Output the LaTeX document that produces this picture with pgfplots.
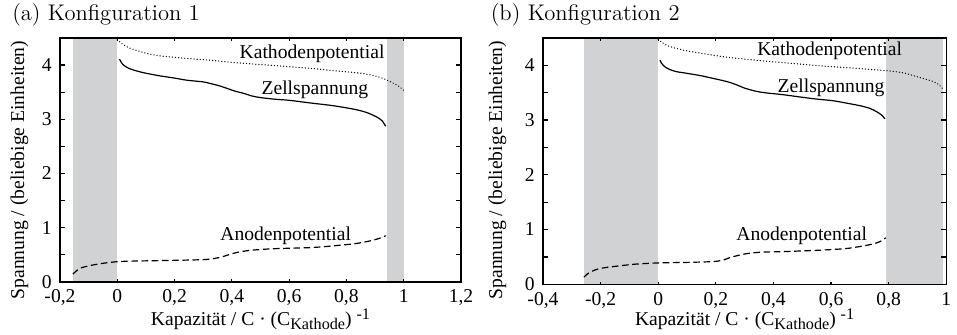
\documentclass[border=0pt]{standalone}
\usepackage{fontspec}
\usepackage{pgfplots}
\pgfplotsset{compat=1.18}
\setmainfont{Liberation Serif}
\newfontfamily\lmfont{Latin Modern Roman}
\definecolor{bandgray}{RGB}{209,210,212}

% Potential curves of both cell configurations
\pgfplotstableread{
x y
0.000 4.47
0.020 4.38
0.045 4.31
0.100 4.22
0.150 4.17
0.250 4.12
0.325 4.09
0.400 4.05
0.500 4.01
0.600 3.97
0.675 3.94
0.750 3.90
0.850 3.85
0.900 3.80
0.930 3.75
0.966 3.66
0.985 3.60
1.000 3.53
}\kathA
\pgfplotstableread{
x y
0.008 4.11
0.015 4.04
0.022 4.00
0.040 3.94
0.069 3.89
0.100 3.85
0.150 3.80
0.200 3.76
0.244 3.72
0.300 3.69
0.325 3.66
0.355 3.62
0.383 3.57
0.410 3.52
0.440 3.48
0.470 3.43
0.500 3.40
0.550 3.37
0.600 3.35
0.675 3.30
0.740 3.26
0.790 3.22
0.840 3.17
0.873 3.12
0.895 3.07
0.913 3.02
0.925 2.97
0.937 2.87
}\zelleA
\pgfplotstableread{
x y
-0.155 0.14
-0.145 0.19
-0.129 0.25
-0.110 0.28
-0.094 0.30
-0.050 0.34
0.000 0.37
0.050 0.38
0.150 0.39
0.250 0.40
0.310 0.41
0.340 0.43
0.360 0.45
0.390 0.50
0.418 0.54
0.450 0.57
0.488 0.59
0.550 0.61
0.675 0.63
0.750 0.66
0.826 0.70
0.870 0.74
0.896 0.77
0.920 0.81
0.937 0.85
}\anodeA
\pgfplotstableread{
x y
0.000 4.47
0.020 4.39
0.040 4.34
0.090 4.27
0.145 4.22
0.230 4.15
0.318 4.10
0.400 4.06
0.490 4.02
0.580 3.98
0.665 3.95
0.740 3.92
0.790 3.90
0.850 3.86
0.897 3.79
0.930 3.74
0.955 3.70
0.975 3.64
0.990 3.55
}\kathB
\pgfplotstableread{
x y
0.006 4.09
0.012 4.03
0.023 3.97
0.040 3.92
0.064 3.88
0.100 3.85
0.145 3.81
0.180 3.77
0.214 3.73
0.245 3.69
0.272 3.64
0.300 3.58
0.342 3.52
0.380 3.49
0.434 3.46
0.490 3.42
0.550 3.38
0.607 3.35
0.660 3.30
0.700 3.26
0.735 3.21
0.758 3.15
0.775 3.09
0.787 3.02
}\zelleB
\pgfplotstableread{
x y
-0.258 0.13
-0.248 0.18
-0.237 0.22
-0.215 0.27
-0.190 0.30
-0.130 0.34
-0.075 0.37
0.000 0.39
0.100 0.40
0.170 0.41
0.203 0.42
0.230 0.45
0.250 0.49
0.280 0.53
0.307 0.56
0.340 0.58
0.376 0.59
0.450 0.60
0.550 0.62
0.647 0.65
0.700 0.69
0.740 0.73
0.770 0.78
0.790 0.85
}\anodeB

\pgfplotsset{
  potstyle/.style={
    scale only axis, anchor=south west, axis on top,
    ymin=0, ymax=4.5,
    ytick={0,1,2,3,4}, yticklabels={0,1,2,3,4},
    minor ytick={0.5,1.5,2.5,3.5},
    tick align=inside,
    axis line style={line width=0.8pt},
    every tick/.style={black, line width=0.6pt},
    xtick style={/pgfplots/major tick length=1.4pt},
    ytick style={/pgfplots/major tick length=2.6pt, /pgfplots/minor tick length=2.6pt},
    yticklabel style={inner ysep=0pt, xshift=-0.6pt},
    xticklabel style={inner xsep=0pt, inner ysep=0pt, yshift=-3.9pt},
    ylabel={Spannung / (beliebige Einheiten)},
    xlabel={Kapazität / C · (C\raisebox{-0.45ex}{\fontsize{8.1}{9}\selectfont Kathode}) \raisebox{0.6ex}{\fontsize{8.1}{9}\selectfont -1}},
  },
  kath/.style={black, line width=0.65pt, line cap=round, dash pattern=on 0.05pt off 1.5pt},
  zelle/.style={black, line width=0.6pt},
  anode/.style={black, line width=0.6pt, dash pattern=on 3.3pt off 1.8pt},
  band/.style={fill=bandgray, draw=none},
}

\begin{document}
\begin{tikzpicture}[font=\rmfamily\fontsize{9.8}{11.5}\selectfont]
\path[use as bounding box] (0,0) rectangle (478.5pt,-167pt);

% Konfiguration 1
\begin{axis}[potstyle,
  at={(30pt,-140.85pt)}, width=200.5pt, height=121.85pt,
  xmin=-0.2, xmax=1.2,
  xtick={-0.2,0,0.2,0.4,0.6,0.8,1,1.2},
  xticklabels={{-0,2},0,{0,2},{0,4},{0,6},{0,8},1,{1,2}},
  ylabel style={at={(axis description cs:-0.101,0.458)}, anchor=center},
  xlabel style={at={(axis description cs:0.5,0)}, anchor=base, yshift=-21.65pt},
]
\addplot[band] coordinates {(-0.156,4.5) (0,4.5)} \closedcycle;
\addplot[band] coordinates {(0.94,4.5) (1.0,4.5)} \closedcycle;
\addplot[kath, smooth] table {\kathA};
\addplot[zelle, smooth] table {\zelleA};
\addplot[anode, smooth] table {\anodeA};
\node[anchor=base] at (axis cs:0.68,4.12) {Kathodenpotential};
\node[anchor=base] at (axis cs:0.69,3.46) {Zellspannung};
\node[anchor=base] at (axis cs:0.588,0.76) {Anodenpotential};
\end{axis}

% Konfiguration 2
\begin{axis}[potstyle,
  at={(271.5pt,-142.15pt)}, width=201.65pt, height=123.3pt,
  xmin=-0.4, xmax=1.0,
  xtick={-0.4,-0.2,0,0.2,0.4,0.6,0.8,1},
  xticklabels={{-0,4},{-0,2},0,{0,2},{0,4},{0,6},{0,8},1},
  ylabel style={at={(axis description cs:-0.1128,0.4635)}, anchor=center},
  xlabel style={at={(axis description cs:0.5,0)}, anchor=base, yshift=-20.35pt},
]
\addplot[band] coordinates {(-0.258,4.5) (0,4.5)} \closedcycle;
\addplot[band] coordinates {(0.792,4.5) (0.99,4.5)} \closedcycle;
\addplot[kath, smooth] table {\kathB};
\addplot[zelle, smooth] table {\zelleB};
\addplot[anode, smooth] table {\anodeB};
\node[anchor=base] at (axis cs:0.595,4.18) {Kathodenpotential};
\node[anchor=base] at (axis cs:0.60,3.50) {Zellspannung};
\node[anchor=base] at (axis cs:0.498,0.805) {Anodenpotential};
\end{axis}

% Panel titles
\node[anchor=base west, font=\lmfont\fontsize{11.3}{13.5}\selectfont] at (2.6pt,-10.35pt) {(a) Konfiguration 1};
\node[anchor=base west, font=\lmfont\fontsize{11.3}{13.5}\selectfont] at (241.9pt,-10.35pt) {(b) Konfiguration 2};
\end{tikzpicture}
\end{document}
